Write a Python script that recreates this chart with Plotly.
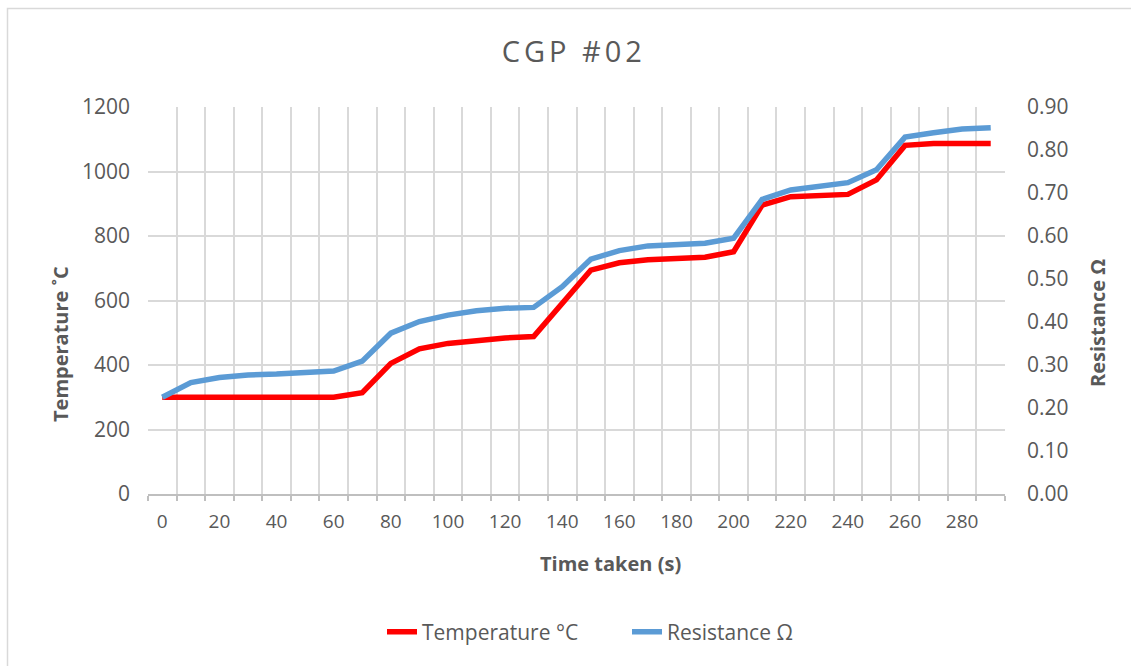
import plotly.graph_objects as go

time_s = [0, 10, 20, 30, 40, 50, 60, 70, 80, 90, 100, 110, 120, 130, 140,
          150, 160, 170, 180, 190, 200, 210, 220, 230, 240, 250, 260, 270, 280, 290]
temperature_c = [300, 300, 300, 300, 300, 300, 300, 314, 405, 450, 467, 475, 484, 488, 591,
                 694, 717, 726, 730, 734, 751, 896, 922, 925, 929, 974, 1081, 1087, 1087, 1087]
resistance_ohm = [0.225, 0.259, 0.271, 0.277, 0.279, 0.282, 0.286, 0.309, 0.374, 0.401, 0.416,
                  0.426, 0.432, 0.434, 0.482, 0.546, 0.566, 0.577, 0.581, 0.583, 0.595,
                  0.685, 0.707, 0.717, 0.724, 0.754, 0.830, 0.840, 0.849, 0.852]
x_tick_labels = list(range(0, 290, 20))
left_ticks = [0, 200, 400, 600, 800, 1000, 1200]
right_ticks = [round(0.1 * i, 2) for i in range(10)]

FONT = "Open Sans"
GRAY = "#595959"

W, H = 1131, 666
plot_l, plot_r, plot_t, plot_b = 148, 1005, 107, 494
ml, mr, mt, mb = plot_l, W - plot_r, plot_t, H - plot_b
pw, ph = W - ml - mr, H - mt - mb


def px_x(page_x):
    return (page_x - ml) / pw


def px_y(page_y):
    return (H - mb - page_y) / ph


fig = go.Figure()
fig.add_trace(go.Scatter(x=time_s, y=temperature_c, mode="lines", name="Temperature °C",
                         line=dict(color="#FF0000", width=5.5)))
fig.add_trace(go.Scatter(x=time_s, y=resistance_ohm, mode="lines", name="Resistance Ω",
                         line=dict(color="#5B9BD5", width=5.5), yaxis="y2"))

fig.update_layout(
    width=W, height=H,
    margin=dict(l=ml, r=mr, t=mt, b=mb),
    paper_bgcolor="white", plot_bgcolor="white",
    font=dict(family=FONT, color=GRAY),
    title=dict(text='<span style="letter-spacing:4px">CGP #02</span>',
               x=562 / W, xanchor="center",
               y=1 - 52 / H, yanchor="middle",
               xref="paper", font=dict(size=29, color=GRAY, family=FONT)),
    xaxis=dict(
        range=[-5, 295],
        tickmode="array", tickvals=x_tick_labels, ticktext=[str(v) for v in x_tick_labels],
        showgrid=False, ticks="", ticklabelstandoff=9,
        tickfont=dict(size=19, color=GRAY),
        showline=True, linecolor="#BFBFBF", linewidth=1.5,
        zeroline=False,
        minor=dict(tickmode="linear", tick0=-5, dtick=10, showgrid=True,
                   gridcolor="#D9D9D9", gridwidth=1.5, ticks="outside", ticklen=5,
                   tickcolor="#BFBFBF", tickwidth=1.5),
    ),
    yaxis=dict(
        range=[0, 1200], tickmode="array", tickvals=left_ticks,
        showgrid=True, gridcolor="#D9D9D9", gridwidth=1.5,
        zeroline=False, ticks="", showline=False, ticklabelstandoff=17,
        tickfont=dict(size=21, color=GRAY),
    ),
    yaxis2=dict(
        range=[0, 0.9], tickmode="array", tickvals=right_ticks, tickformat=".2f",
        overlaying="y", side="right", showgrid=False, zeroline=False, ticks="",
        ticklabelstandoff=21,
        tickfont=dict(size=21, color=GRAY),
    ),
    legend=dict(orientation="h", x=px_x(382), xanchor="left", y=px_y(632), yanchor="middle",
                font=dict(size=21, color=GRAY), traceorder="normal",
                entrywidth=200, entrywidthmode="pixels"),
    showlegend=True,
    annotations=[
        dict(text="<b>Time taken (s)</b>", xref="paper", yref="paper",
             x=px_x(610), y=px_y(563), xanchor="center", yanchor="middle",
             showarrow=False, font=dict(size=20, color=GRAY)),
        dict(text="<b>Temperature ˚C</b>", xref="paper", yref="paper",
             x=px_x(60), y=px_y(344), xanchor="center", yanchor="middle", textangle=-90,
             showarrow=False, font=dict(size=20, color=GRAY)),
        dict(text="<b>Resistance Ω</b>", xref="paper", yref="paper",
             x=px_x(1097), y=px_y(323), xanchor="center", yanchor="middle", textangle=-90,
             showarrow=False, font=dict(size=20, color=GRAY)),
    ],
    shapes=[
        dict(type="rect", xref="paper", yref="paper",
             x0=px_x(7.5), x1=px_x(1160),
             y0=px_y(700), y1=px_y(8.5),
             line=dict(color="#D9D9D9", width=1.5), fillcolor="rgba(0,0,0,0)", layer="below"),
    ],
)

fig.write_html(
    "out.html",
    config={"displayModeBar": False},
    post_script="document.body.style.margin='0';document.body.style.overflow='hidden';",
)
